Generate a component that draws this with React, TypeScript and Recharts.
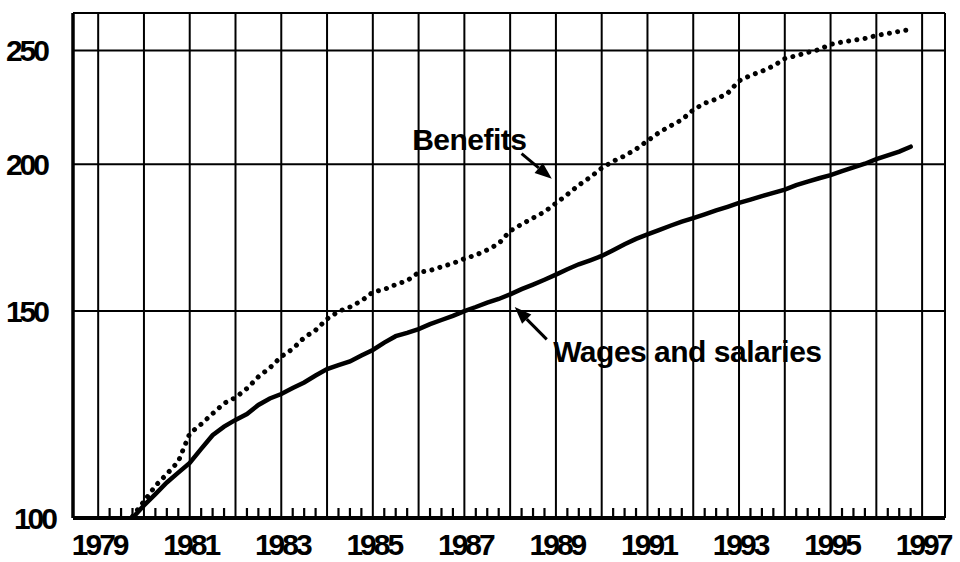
import React from 'react';
import {
  ComposedChart, Line, Scatter, XAxis, YAxis, CartesianGrid,
  ReferenceLine, ReferenceDot,
} from 'recharts';

// quarterly index, 1979 Q4 = 100
const PERIODS = [
  1979.75,
  1980, 1980.25, 1980.5, 1980.75,
  1981, 1981.25, 1981.5, 1981.75,
  1982, 1982.25, 1982.5, 1982.75,
  1983, 1983.25, 1983.5, 1983.75,
  1984, 1984.25, 1984.5, 1984.75,
  1985, 1985.25, 1985.5, 1985.75,
  1986, 1986.25, 1986.5, 1986.75,
  1987, 1987.25, 1987.5, 1987.75,
  1988, 1988.25, 1988.5, 1988.75,
  1989, 1989.25, 1989.5, 1989.75,
  1990, 1990.25, 1990.5, 1990.75,
  1991, 1991.25, 1991.5, 1991.75,
  1992, 1992.25, 1992.5, 1992.75,
  1993, 1993.25, 1993.5, 1993.75,
  1994, 1994.25, 1994.5, 1994.75,
  1995, 1995.25, 1995.5, 1995.75,
  1996, 1996.25, 1996.5, 1996.75,
];

const WAGES = [
  100,
  102.5, 104.8, 107.2, 109.3,
  111.4, 114.5, 117.6, 119.6,
  121.2, 122.6, 124.8, 126.4,
  127.5, 129.0, 130.4, 132.2,
  133.9, 134.9, 135.9, 137.5,
  139.0, 141.0, 142.8, 143.7,
  144.8, 146.2, 147.4, 148.6,
  150.0, 151.2, 152.5, 153.6,
  155.0, 156.6, 158.0, 159.5,
  161.1, 162.8, 164.4, 165.7,
  167.1, 169.0, 171.0, 172.8,
  174.3, 175.8, 177.3, 178.7,
  180.0, 181.3, 182.7, 184.0,
  185.4, 186.6, 187.9, 189.1,
  190.3, 192.0, 193.3, 194.6,
  195.8, 197.3, 198.8, 200.2,
  202.0, 203.5, 205.0, 207.0,
];

const BENEFITS = [
  100.3,
  103.3, 106.5, 109.0, 111.7,
  118.0, 120.2, 122.7, 125.2,
  126.6, 128.9, 131.9, 134.2,
  137.2, 139.3, 142.4, 144.5,
  147.7, 149.9, 151.2, 153.0,
  155.7, 156.5, 158.0, 159.2,
  161.8, 162.4, 163.6, 164.7,
  166.2, 167.4, 169.1, 171.2,
  175.5, 177.8, 180.0, 182.2,
  185.3, 188.5, 192.0, 195.0,
  198.5, 201.2, 203.3, 206.0,
  209.4, 212.8, 215.6, 218.2,
  222.5, 225.4, 227.2, 229.8,
  235.5, 238.0, 240.0, 242.5,
  246.0, 247.4, 249.0, 250.4,
  253.0, 254.1, 255.0, 255.9,
  257.4, 258.4, 259.5, 260.5,
];

const YEARS = [
  1979, 1980, 1981, 1982, 1983, 1984, 1985, 1986, 1987, 1988,
  1989, 1990, 1991, 1992, 1993, 1994, 1995, 1996, 1997,
];
const LABEL_YEARS = [1979, 1981, 1983, 1985, 1987, 1989, 1991, 1993, 1995, 1997];
const Y_TICKS = [100, 150, 200, 250];
// quarter marks along the time axis
const MINOR_TICKS = YEARS.slice(0, -1).flatMap((y) => [y + 0.25, y + 0.5, y + 0.75]);
const X_DOMAIN = [1978.45, 1997.5];

const data = PERIODS.map((t, i) => ({ t, wages: WAGES[i], benefits: BENEFITS[i] }));
const minorData = MINOR_TICKS.map((t) => ({ t, base: 100 }));

const FONT = '"Liberation Sans", Arial, Helvetica, sans-serif';

const XTick = (props: any) => {
  const { x, y, payload } = props;
  if (!LABEL_YEARS.includes(payload.value)) return <g />;
  return (
    <text x={x + 1} y={y + 37} textAnchor="middle" fontFamily={FONT} fontWeight="bold"
      fontSize={30} letterSpacing={-3} fill="#000">
      {payload.value}
    </text>
  );
};

const YTick = (props: any) => {
  const { x, y, payload } = props;
  const shift = payload.value === 100 ? 8 : 0;
  return (
    <text x={x - 26 + shift} y={y + 11} textAnchor="end" fontFamily={FONT} fontWeight="bold"
      fontSize={30} letterSpacing={-3} fill="#000">
      {payload.value}
    </text>
  );
};

const MinorMark = (props: any) => {
  const { cx, cy } = props;
  return <line x1={cx} x2={cx} y1={cy - 10} y2={cy} stroke="#000" strokeWidth={2.2} />;
};

const Arrow = (props: any) => {
  const { x1, y1, x2, y2 } = props;
  const a = Math.atan2(y2 - y1, x2 - x1);
  const len = 17;
  const half = 6.5;
  const bx = x2 - len * Math.cos(a);
  const by = y2 - len * Math.sin(a);
  const px = -Math.sin(a) * half;
  const py = Math.cos(a) * half;
  return (
    <g>
      <line x1={x1} y1={y1} x2={bx} y2={by} stroke="#000" strokeWidth={3} />
      <polygon points={`${x2},${y2} ${bx + px},${by + py} ${bx - px},${by - py}`} fill="#000" />
    </g>
  );
};

const Label = (text: string) => (props: any) => (
  <text x={props.cx} y={props.cy} fontFamily={FONT} fontWeight="bold" fontSize={30}
    letterSpacing={-0.5} fill="#000">
    {text}
  </text>
);

export default function App() {
  return (
    <div style={{ position: 'absolute', left: 0, top: 0, width: 960, height: 562, background: '#fff' }}>
      <ComposedChart width={960} height={562} data={data}
        margin={{ top: 13, right: 15, bottom: 0, left: 0 }}>
        <CartesianGrid stroke="#000" strokeWidth={2} />
        <XAxis dataKey="t" type="number" domain={X_DOMAIN} ticks={YEARS}
          interval={0} height={44} tickLine={false} tickSize={0} tickMargin={0}
          axisLine={{ stroke: '#000', strokeWidth: 4 }} tick={<XTick />} allowDataOverflow />
        <YAxis scale="log" type="number" domain={[100, 269]} ticks={Y_TICKS} interval={0}
          width={73} tickLine={false} tickSize={0} tickMargin={0} allowDataOverflow
          axisLine={{ stroke: '#000', strokeWidth: 3.5 }} tick={<YTick />} />
        <Scatter data={minorData} dataKey="base" shape={MinorMark} isAnimationActive={false} />
        <Line dataKey="benefits" type="linear" stroke="#000" strokeWidth={5}
          strokeDasharray="0.01 8.3" strokeLinecap="round" dot={false}
          isAnimationActive={false} />
        <Line dataKey="wages" type="linear" stroke="#000" strokeWidth={4.5}
          strokeLinecap="round" dot={false} isAnimationActive={false} />
        <ReferenceLine segment={[{ x: 1988.25, y: 204.2 }, { x: 1988.91, y: 194.4 }]}
          shape={Arrow} ifOverflow="visible" />
        <ReferenceLine segment={[{ x: 1988.8, y: 141.9 }, { x: 1988.1, y: 151.2 }]}
          shape={Arrow} ifOverflow="visible" />
        <ReferenceDot x={1985.86} y={205.5} r={0} shape={Label('Benefits')} ifOverflow="visible" />
        <ReferenceDot x={1988.94} y={135.7} r={0} shape={Label('Wages and salaries')} ifOverflow="visible" />
      </ComposedChart>
    </div>
  );
}
